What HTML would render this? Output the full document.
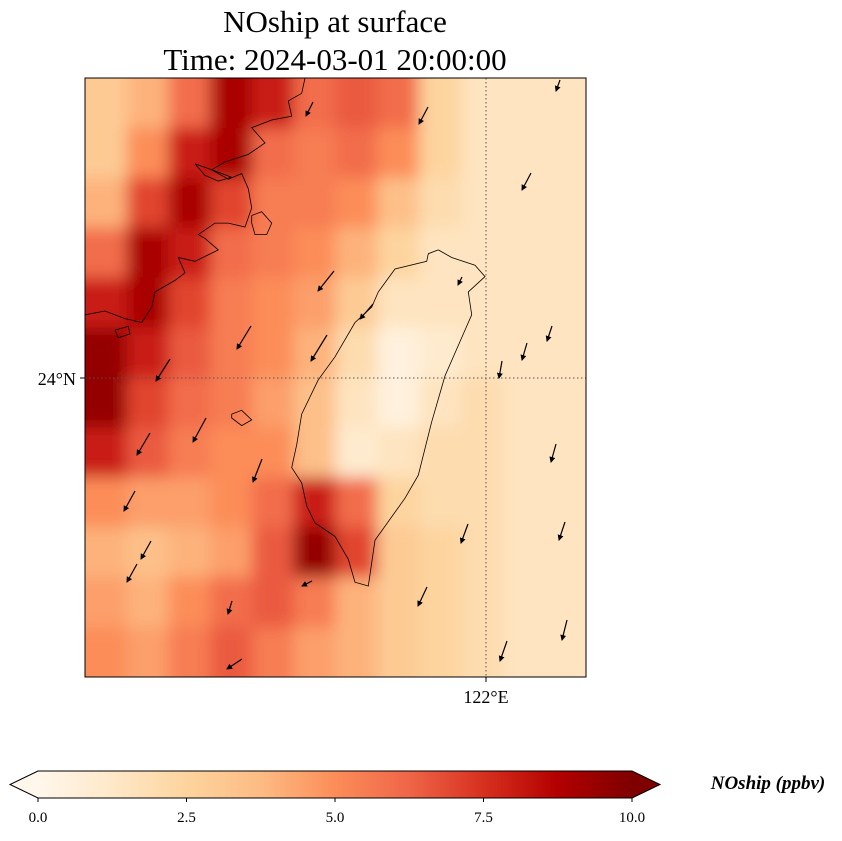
<!DOCTYPE html>
<html><head><meta charset="utf-8"><style>
body{margin:0;background:#fff;width:842px;height:836px;overflow:hidden;font-family:"Liberation Serif",serif}
</style></head><body>
<svg width="842" height="836">
<defs>
<clipPath id="mapclip"><rect x="85" y="78" width="501" height="599"/></clipPath>
<filter id="blur" x="-5%" y="-5%" width="110%" height="110%"><feGaussianBlur stdDeviation="8"/></filter>
<linearGradient id="cbg" x1="0" x2="1" y1="0" y2="0">
<stop offset="0" stop-color="#fff7ec"/><stop offset="0.125" stop-color="#fee8c8"/><stop offset="0.25" stop-color="#fdd49e"/><stop offset="0.375" stop-color="#fdbb84"/><stop offset="0.5" stop-color="#fc8d59"/><stop offset="0.625" stop-color="#ef6548"/><stop offset="0.75" stop-color="#d7301f"/><stop offset="0.875" stop-color="#b30000"/><stop offset="1" stop-color="#7f0000"/>
</linearGradient>
<marker id="ah" markerWidth="6" markerHeight="6" refX="5" refY="3" orient="auto" markerUnits="userSpaceOnUse"><path d="M0,0 L6,3 L0,6 z" fill="#000"/></marker>
</defs>
<text x="335" y="32" font-size="31" text-anchor="middle">NOship at surface</text>
<text x="335" y="70" font-size="31" text-anchor="middle">Time: 2024-03-01 20:00:00</text>
<g clip-path="url(#mapclip)">
<rect x="85" y="78" width="501" height="599" fill="#fdd49e"/>
<g id="cells" filter="url(#blur)"></g>
<g id="coast" fill="none" stroke="#000" stroke-width="0.8"></g>
<line x1="486" y1="78" x2="486" y2="677" stroke="#555" stroke-dasharray="1.5,2.5" stroke-width="1"/>
<line x1="85" y1="378" x2="586" y2="378" stroke="#555" stroke-dasharray="1.5,2.5" stroke-width="1"/>
<g id="arrows"></g>
</g>
<rect x="85" y="78" width="501" height="599" fill="none" stroke="#000" stroke-width="1"/>
<line x1="80" y1="378" x2="85" y2="378" stroke="#000"/>
<text x="76" y="385" font-size="18" text-anchor="end">24°N</text>
<line x1="486" y1="677" x2="486" y2="682" stroke="#000"/>
<text x="486" y="703" font-size="18" text-anchor="middle">122°E</text>
<g>
<rect x="38" y="771" width="594" height="27" fill="url(#cbg)"/>
<path d="M38,771 L10,784.5 L38,798 z" fill="#fff7ec"/>
<path d="M632,771 L660,784.5 L632,798 z" fill="#7f0000"/>
<path d="M38,771 L10,784.5 L38,798 L632,798 L660,784.5 L632,771 z" fill="none" stroke="#000" stroke-width="1"/>
<g id="cbticks" font-size="15"></g>
<text x="768" y="789" font-size="19" font-weight="bold" font-style="italic" text-anchor="middle">NOship (ppbv)</text>
</g>
</svg>
<script>
const NS='http://www.w3.org/2000/svg';
const gridValues=[
[3,4,6,9,8,6,6.5,6,2.5,1.5,1.5,1.5],
[3,5,8,9,6,5.5,6,5,2.5,1.5,1.5,1.5],
[4,7,9,7,5.5,5.5,5,3.5,2,1.5,1.5,1.5],
[6,9,8,6,5.5,5,4,2.5,1.5,1.5,1.5,1.5],
[8,9,7,5.5,5,4.5,3,1.5,1.5,1.5,1.5,1.5],
[9.5,8,6.5,5.5,5,4,2,0.5,1,1.5,1.5,1.5],
[9.5,7,6,5.5,4.5,3.5,1.5,0.5,1.5,2,1.5,1.5],
[8,6.5,5.5,5,5,3.5,1,1.5,2,2,1.5,1.5],
[5,4.5,4.5,5,6,8,6,2.5,2,2,1.5,1.5],
[4,3.5,4,4.5,6.5,9.5,7,3,2.5,2,1.5,1.5],
[4.5,4,5,6,6.5,5.5,4,3,2.5,2,1.5,1.5],
[5,4.5,5.5,6.5,5.5,4.5,4,3,2.5,2,1.5,1.5]];
const cbTicks=[0,2.5,5,7.5,10];
const cbTickLabels=['0.0','2.5','5.0','7.5','10.0'];
const arrowX=[560,313,428,531,334,462,373,251,327,552,527,502,170,206,150,262,556,135,468,565,151,137,312,232,427,567,507,242];
const arrowY=[80,102,107,173,271,277,304,326,335,326,343,361,359,418,433,459,444,491,524,522,541,564,581,601,587,620,641,659];
const arrowU=[-4,-7,-9,-9,-16,-4,-13,-14,-16,-5,-5,-3,-14,-13,-13,-9,-5,-11,-7,-6,-10,-10,-10,-4,-9,-5,-7,-15];
const arrowV=[11,14,17,17,20,8,15,23,26,15,17,17,22,24,22,23,18,20,19,18,18,18,5,13,19,20,20,10];
const stops=[[0,'#fff7ec'],[1.25,'#fee8c8'],[2.5,'#fdd49e'],[3.75,'#fdbb84'],[5,'#fc8d59'],[6.25,'#ef6548'],[7.5,'#d7301f'],[8.75,'#b30000'],[10,'#7f0000']];
function hex(h){return [1,3,5].map(i=>parseInt(h.substr(i,2),16));}
function cmap(v){v=Math.max(0,Math.min(10,v));for(let i=0;i<stops.length-1;i++){if(v<=stops[i+1][0]){const t=(v-stops[i][0])/(stops[i+1][0]-stops[i][0]);const a=hex(stops[i][1]),b=hex(stops[i+1][1]);return 'rgb('+a.map((x,k)=>Math.round(x+(b[k]-x)*t)).join(',')+')';}}return '#7f0000';}
const X0=85,Y0=78,W=501,H=599;
const rows=gridValues.length,cols=gridValues[0].length;
const cw=W/cols,ch=H/rows;
const cells=document.getElementById('cells');
for(let r=-1;r<=rows;r++)for(let c=-1;c<=cols;c++){
 const rr=Math.max(0,Math.min(rows-1,r)),cc=Math.max(0,Math.min(cols-1,c));
 const el=document.createElementNS(NS,'rect');
 el.setAttribute('x',X0+c*cw);el.setAttribute('y',Y0+r*ch);
 el.setAttribute('width',cw+0.5);el.setAttribute('height',ch+0.5);
 el.setAttribute('fill',cmap(gridValues[rr][cc]));
 
 
 cells.appendChild(el);
}
function zpath(pts){return 'M'+pts.map(p=>(85+p[0]/3).toFixed(1)+','+(78+p[1]/2.618).toFixed(1)).join(' L');}
const coast=document.getElementById('coast');
const taiwan=[[1060,450],[1030,460],[1025,480],[930,500],[880,560],[860,600],[810,640],[750,730],[700,790],[650,880],[635,960],[620,1020],[650,1060],[665,1120],[690,1165],[750,1200],[790,1260],[810,1320],[850,1330],[870,1210],[960,1100],[1000,1040],[1040,900],[1080,780],[1110,720],[1140,660],[1160,620],[1150,560],[1200,520],[1170,490],[1100,470],[1060,450]];
const china=[[0,620],[60,610],[120,630],[170,640],[200,600],[210,560],[270,530],[300,510],[280,470],[330,480],[400,450],[360,420],[340,410],[390,380],[430,380],[480,390],[500,340],[490,290],[470,250],[430,265],[380,240],[420,220],[490,200],[540,170],[500,130],[560,110],[620,100],[610,60],[650,40],[660,0]];
const islands=[[[500,360],[530,350],[560,380],[545,410],[510,410],[500,380],[500,360]],[[440,880],[470,870],[500,895],[470,910],[440,890],[440,880]],[[330,225],[380,240],[440,260],[400,270],[360,255],[330,225]],[[90,660],[130,650],[135,670],[100,680],[90,660]]];
[[taiwan,'taiwan-coastline'],[china,'china-coastline']].concat(islands.map(p=>[p,'island-coastline'])).forEach(([p,n])=>{const e=document.createElementNS(NS,'path');e.setAttribute('d',zpath(p));


coast.appendChild(e);});
const ag=document.getElementById('arrows');
for(let i=0;i<arrowX.length;i++){
 const l=document.createElementNS(NS,'line');
 l.setAttribute('x1',arrowX[i]);l.setAttribute('y1',arrowY[i]);
 l.setAttribute('x2',arrowX[i]+arrowU[i]);l.setAttribute('y2',arrowY[i]+arrowV[i]);
 l.setAttribute('stroke','#000');l.setAttribute('stroke-width','1.2');l.setAttribute('marker-end','url(#ah)');
 
 
 ag.appendChild(l);
}
const tg=document.getElementById('cbticks');
cbTicks.forEach((v,i)=>{const x=38+v/10*594;
 const t=document.createElementNS(NS,'line');t.setAttribute('x1',x);t.setAttribute('x2',x);t.setAttribute('y1',798);t.setAttribute('y2',802);t.setAttribute('stroke','#000');
 
 
 tg.appendChild(t);
 const s=document.createElementNS(NS,'text');s.setAttribute('x',x);s.setAttribute('y',822);s.setAttribute('text-anchor','middle');s.textContent=cbTickLabels[i];
 
 
 tg.appendChild(s);});
</script>
</body></html>
